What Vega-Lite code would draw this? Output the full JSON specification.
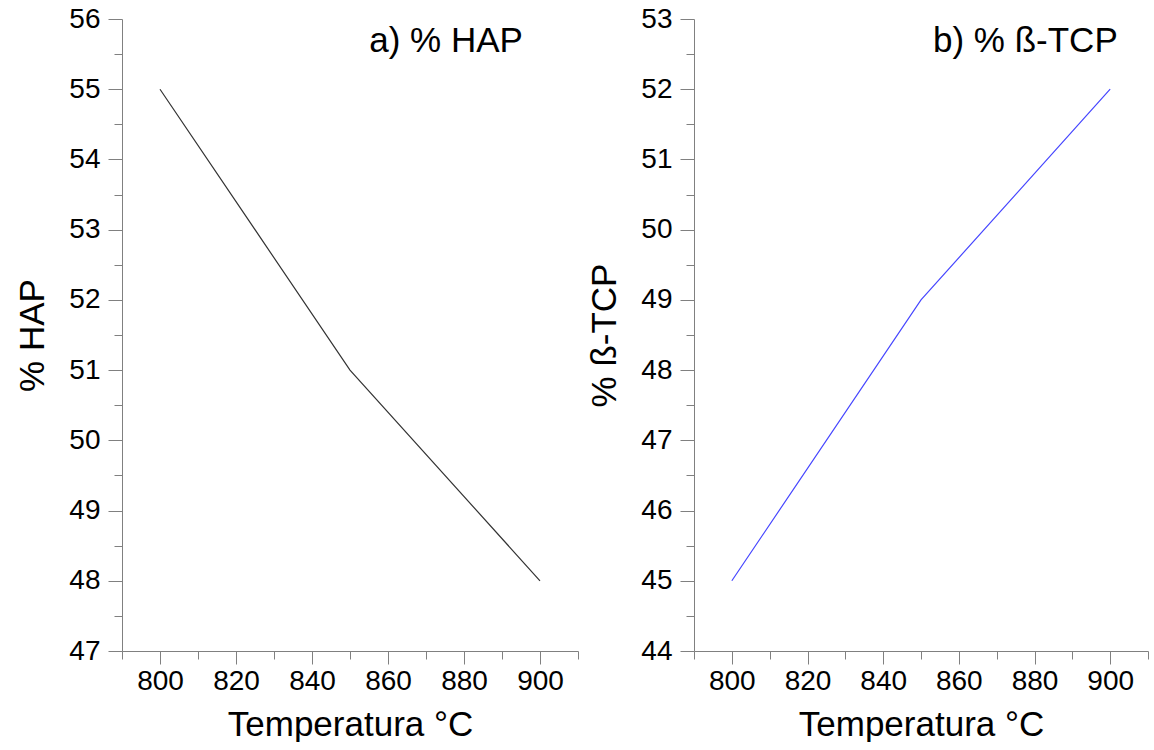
{
  "$schema": "https://vega.github.io/schema/vega-lite/v6.json",
  "background": "white",
  "padding": {"left": 15, "top": 5, "right": 0, "bottom": 0},
  "spacing": 8,
  "config": {
    "view": {"stroke": null},
    "font": "Liberation Sans",
    "axis": {
      "grid": false,
      "domainColor": "#808080",
      "tickColor": "#808080",
      "labelFont": "Liberation Sans",
      "labelFontSize": 28,
      "labelColor": "#000000",
      "titleFont": "Liberation Sans",
      "titleFontSize": 35,
      "titleFontWeight": "normal",
      "titleColor": "#000000"
    }
  },
  "datasets": {
    "hap": [
      {"T": 800, "v": 55},
      {"T": 850, "v": 51},
      {"T": 900, "v": 48}
    ],
    "tcp": [
      {"T": 800, "v": 45},
      {"T": 850, "v": 49},
      {"T": 900, "v": 52}
    ]
  },
  "hconcat": [
    {
      "width": 456,
      "height": 632,
      "resolve": {"axis": {"x": "independent", "y": "independent"}},
      "layer": [
        {
          "data": {"name": "hap"},
          "mark": {"type": "line", "color": "#333333", "strokeWidth": 1.2},
          "encoding": {
            "x": {"field": "T", "type": "quantitative",
              "scale": {"domain": [790, 910], "nice": false, "zero": false},
              "axis": {"orient": "bottom", "values": [800, 820, 840, 860, 880, 900], "tickSize": 13, "labelPadding": 3, "title": "Temperatura °C", "titlePadding": 12}},
            "y": {"field": "v", "type": "quantitative",
              "scale": {"domain": [47, 56], "nice": false, "zero": false},
              "axis": {"orient": "left", "values": [47, 48, 49, 50, 51, 52, 53, 54, 55, 56], "tickSize": 14, "labelPadding": 8, "title": "% HAP", "titlePadding": 18}}
          }
        },
        {
          "data": {"name": "hap"},
          "mark": {"type": "line", "opacity": 0},
          "encoding": {
            "x": {"field": "T", "type": "quantitative",
              "axis": {"orient": "bottom", "values": [790, 810, 830, 850, 870, 890, 910], "tickSize": 8, "labels": false, "domain": false, "title": null}},
            "y": {"field": "v", "type": "quantitative",
              "axis": {"orient": "left", "values": [47.5, 48.5, 49.5, 50.5, 51.5, 52.5, 53.5, 54.5, 55.5], "tickSize": 8, "labels": false, "domain": false, "title": null}}
          }
        },
        {
          "data": {"values": [{"T": 895.5, "v": 55.69, "label": "a) % HAP"}]},
          "mark": {"type": "text", "align": "right", "baseline": "middle", "fontSize": 35, "font": "Liberation Sans", "color": "#000000"},
          "encoding": {
            "x": {"field": "T", "type": "quantitative", "axis": null},
            "y": {"field": "v", "type": "quantitative", "axis": null},
            "text": {"field": "label"}
          }
        }
      ]
    },
    {
      "width": 454,
      "height": 632,
      "resolve": {"axis": {"x": "independent", "y": "independent"}},
      "layer": [
        {
          "data": {"name": "tcp"},
          "mark": {"type": "line", "color": "#4646ff", "strokeWidth": 1.2},
          "encoding": {
            "x": {"field": "T", "type": "quantitative",
              "scale": {"domain": [790, 910], "nice": false, "zero": false},
              "axis": {"orient": "bottom", "values": [800, 820, 840, 860, 880, 900], "tickSize": 13, "labelPadding": 3, "title": "Temperatura °C", "titlePadding": 12}},
            "y": {"field": "v", "type": "quantitative",
              "scale": {"domain": [44, 53], "nice": false, "zero": false},
              "axis": {"orient": "left", "values": [44, 45, 46, 47, 48, 49, 50, 51, 52, 53], "tickSize": 14, "labelPadding": 8, "title": "% ß-TCP", "titlePadding": 18}}
          }
        },
        {
          "data": {"name": "tcp"},
          "mark": {"type": "line", "opacity": 0},
          "encoding": {
            "x": {"field": "T", "type": "quantitative",
              "axis": {"orient": "bottom", "values": [790, 810, 830, 850, 870, 890, 910], "tickSize": 8, "labels": false, "domain": false, "title": null}},
            "y": {"field": "v", "type": "quantitative",
              "axis": {"orient": "left", "values": [44.5, 45.5, 46.5, 47.5, 48.5, 49.5, 50.5, 51.5, 52.5], "tickSize": 8, "labels": false, "domain": false, "title": null}}
          }
        },
        {
          "data": {"values": [{"T": 902, "v": 52.69, "label": "b) % ß-TCP"}]},
          "mark": {"type": "text", "align": "right", "baseline": "middle", "fontSize": 35, "font": "Liberation Sans", "color": "#000000"},
          "encoding": {
            "x": {"field": "T", "type": "quantitative", "axis": null},
            "y": {"field": "v", "type": "quantitative", "axis": null},
            "text": {"field": "label"}
          }
        }
      ]
    }
  ]
}
